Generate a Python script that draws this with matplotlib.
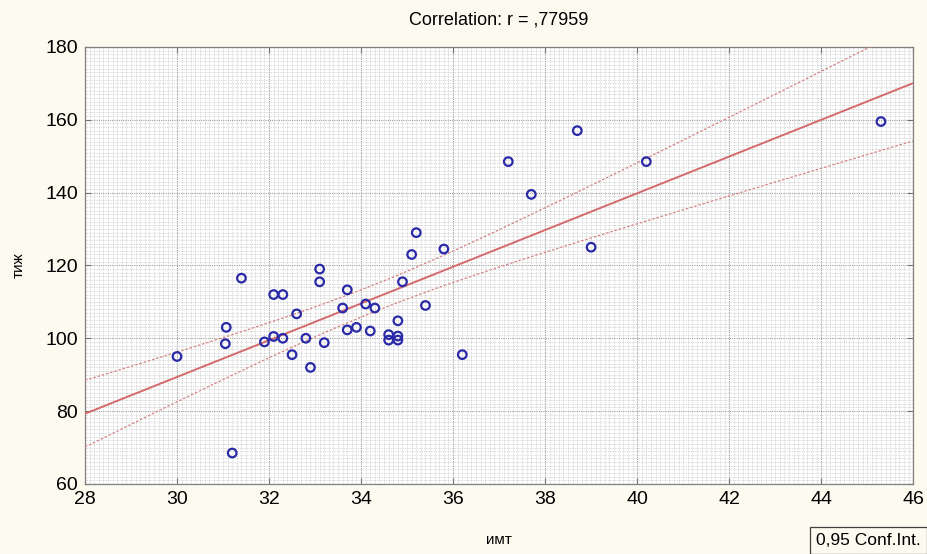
import numpy as np
import matplotlib
matplotlib.use("Agg")
import matplotlib.pyplot as plt
from matplotlib.ticker import MultipleLocator

# values
imt = [30.0, 31.07, 31.05, 31.2, 31.4, 31.9, 32.1, 32.3, 32.1, 32.3,
       32.5, 32.6, 32.8, 32.9, 33.1, 33.1, 33.2, 33.6, 33.7, 33.7,
       33.9, 34.1, 34.3, 34.2, 34.6, 34.6, 34.8, 34.8, 34.8, 34.9,
       35.1, 35.2, 35.4, 35.8, 36.2, 37.2, 37.7, 38.7, 39.0, 40.2,
       45.3]
tizh = [95.0, 103.0, 98.5, 68.5, 116.5, 99.0, 112.0, 112.0, 100.5, 100.0,
        95.5, 106.7, 100.0, 92.0, 119.0, 115.5, 98.8, 108.3, 113.3, 102.3,
        103.0, 109.4, 108.3, 102.0, 99.5, 101.0, 99.5, 100.6, 104.8, 115.5,
        123.0, 129.0, 109.0, 124.5, 95.5, 148.5, 139.5, 157.0, 125.0, 148.5,
        159.5]

title = "Correlation: r = ,77959"
x_label = "имт"
y_label = "тиж"
legend_text = "0,95 Conf.Int."

plt.rcParams["font.family"] = ["Liberation Sans", "DejaVu Sans"]

x = np.array(imt)
y = np.array(tizh)
n = len(x)
b, a = np.polyfit(x, y, 1)
xs = np.linspace(28, 46, 200)
yfit = a + b * xs
resid = y - (a + b * x)
s = np.sqrt(np.sum(resid ** 2) / (n - 2))
sxx = np.sum((x - x.mean()) ** 2)
t = 2.0227  # t(0.975, n-2)
half = t * s * np.sqrt(1.0 / n + (xs - x.mean()) ** 2 / sxx)

fig = plt.figure(figsize=(9.28, 5.54), dpi=100, facecolor="#fdfaf0")
ax = fig.add_axes([0.0916, 0.1264, 0.8924, 0.789])
ax.set_facecolor("white")

ax.set_xlim(28, 46)
ax.set_ylim(60, 180)
ax.xaxis.set_major_locator(MultipleLocator(2))
ax.yaxis.set_major_locator(MultipleLocator(20))
ax.xaxis.set_minor_locator(MultipleLocator(0.1))
ax.yaxis.set_minor_locator(MultipleLocator(1))
ax.grid(which="minor", color="#b8b8b8", linestyle=(0, (1, 1.5)), linewidth=0.5)
ax.grid(which="major", color="#a0a0a0", linestyle=(0, (1, 1)), linewidth=0.8)
ax.set_axisbelow(True)

ax.plot(xs, yfit, color="#d46a6a", linewidth=1.4, zorder=3)
ax.plot(xs, yfit + half, color="#d88080", linewidth=0.9, linestyle=(0, (2, 1.5)), zorder=3)
ax.plot(xs, yfit - half, color="#d88080", linewidth=0.9, linestyle=(0, (2, 1.5)), zorder=3)
ax.scatter(x, y, s=38, facecolors="none", edgecolors="#2a2aa8", linewidths=1.6, zorder=4)

ax.tick_params(which="major", direction="in", length=4, width=0.8, color="#707070",
               top=True, right=True, labelsize=14, pad=5)
ax.tick_params(which="minor", length=0)
for sp in ax.spines.values():
    sp.set_color("#808080")
    sp.set_linewidth(0.9)

ax.set_title(title, fontsize=13, pad=16)
ax.set_xlabel(x_label, fontsize=11, labelpad=18)
ax.set_ylabel(y_label, fontsize=11, labelpad=14)

fig.text(0.879, 0.024, legend_text, fontsize=12.5, ha="left", va="center",
         bbox=dict(boxstyle="square,pad=0.35", facecolor="#fdfaf0", edgecolor="#404040", linewidth=0.9))

fig.savefig("out.png", dpi=100, facecolor=fig.get_facecolor())
